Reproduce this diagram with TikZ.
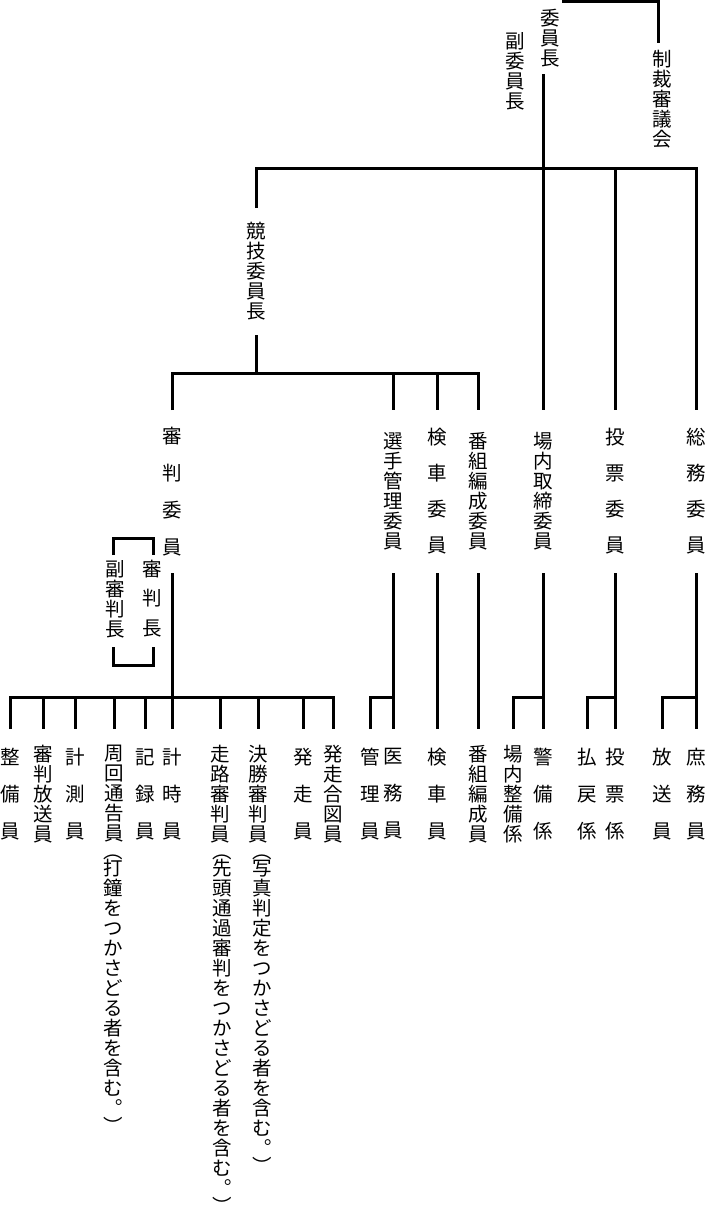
\documentclass[tikz,border=0pt]{standalone}
\usepackage{fontspec}
\setmainfont{Noto Sans CJK JP}
\begin{document}
\begin{tikzpicture}[x=1pt,y=-1pt,line width=3pt,
		lbl/.style={inner sep=0pt,outer sep=0pt,align=center,font=\fontsize{19.5}{20}\selectfont},
		wide/.style={lbl,font=\fontsize{19.5}{36}\selectfont},
		wider/.style={lbl,font=\fontsize{19.5}{37}\selectfont},
		upper/.style={minimum height=163pt},
		lower/.style={minimum height=130pt,anchor=north}]
		\useasboundingbox (0,0) rectangle (709,1218);
		\node[lbl,minimum height=71pt] (chair) at (550,38.5) {委\\員\\長};
		\node[lbl,anchor=north] (vice) at (515,32) {副\\委\\員\\長};
		\node[lbl,anchor=north,inner ysep=7pt] (council) at (662,43) {制\\裁\\審\\議\\会};
		\node[lbl,minimum height=127pt] (keigi) at (256,271.5) {競\\技\\委\\員\\長};
		\node[wider,upper] (shinpan) at (172,491.5) {審\\判\\委\\員};
		\node[lbl,upper] (senshu) at (393,491.5) {選\\手\\管\\理\\委\\員};
		\node[wide,upper] (kensha) at (437,491.5) {検\\車\\委\\員};
		\node[lbl,upper] (bangumi) at (478,491.5) {番\\組\\編\\成\\委\\員};
		\node[lbl,upper] (jonai) at (543,491.5) {場\\内\\取\\締\\委\\員};
		\node[wide,upper] (touhyo) at (615,491.5) {投\\票\\委\\員};
		\node[wide,upper] (soumu) at (696,491.5) {総\\務\\委\\員};
		\node[lbl,font=\fontsize{19.5}{29.5}\selectfont,anchor=north] (chief) at (152,560) {審\\判\\長};
		\node[lbl,anchor=north] (vchief) at (115,560) {副\\審\\判\\長};
		\node[wider,lower] (seibi) at (10,729) {整\\備\\員};
		\node[lbl,lower] (shbousou) at (43,729) {審\\判\\放\\送\\員};
		\node[wider,lower] (keisoku) at (75,729) {計\\測\\員};
		\node[lbl,lower] (shuukai) at (114,729) {周\\回\\通\\告\\員};
		\node[wider,lower] (kiroku) at (145,729) {記\\録\\員};
		\node[wider,lower] (keiji) at (172,729) {計\\時\\員};
		\node[lbl,lower] (sourou) at (220,729) {走\\路\\審\\判\\員};
		\node[lbl,lower] (kesshou) at (258,729) {決\\勝\\審\\判\\員};
		\node[wider,lower] (hassou) at (303,729) {発\\走\\員};
		\node[lbl,lower] (aizu) at (333,729) {発\\走\\合\\図\\員};
		\node[wider,lower] (kanri) at (370,729) {管\\理\\員};
		\node[wider,lower] (imu) at (393,729) {医\\務\\員};
		\node[wider,lower] (kenshain) at (437,729) {検\\車\\員};
		\node[lbl,lower] (bangumiin) at (478,729) {番\\組\\編\\成\\員};
		\node[lbl,lower] (jseibi) at (513,729) {場\\内\\整\\備\\係};
		\node[wider,lower] (keibi) at (543,729) {警\\備\\係};
		\node[wider,lower] (haraimodoshi) at (587,729) {払\\戻\\係};
		\node[wider,lower] (thkakari) at (615,729) {投\\票\\係};
		\node[wider,lower] (housouin) at (662,729) {放\\送\\員};
		\node[wider,lower] (shomu) at (696,729) {庶\\務\\員};
		\node[lbl,anchor=north] (shuukainote) at (113,855) {︵\\[-3pt]打\\鐘\\を\\つ\\か\\さ\\ど\\る\\者\\を\\含\\む\\︒\\[-2pt]︶};
		\node[lbl,anchor=north] (sourounote) at (222,855) {︵\\[-3pt]先\\頭\\通\\過\\審\\判\\を\\つ\\か\\さ\\ど\\る\\者\\を\\含\\む\\︒\\[-2pt]︶};
		\node[lbl,anchor=north] (kesshounote) at (262,855) {︵\\[-3pt]写\\真\\判\\定\\を\\つ\\か\\さ\\ど\\る\\者\\を\\含\\む\\︒\\[-2pt]︶};
		\coordinate (ctop) at (562,1.5);
		\coordinate (cbar) at (658,0);
		\coordinate (trunk) at (543,168);
		\coordinate (kbar) at (256,373);
		\coordinate (sbar) at (172,697);
		\draw (ctop) -| (council.north -| cbar);
		\draw (chair.south -| trunk) -- (trunk);
		\draw (keigi.north) |- (trunk) -| (soumu.north);
		\draw (trunk) -- (jonai.north);
		\draw (touhyo.north |- trunk) -- (touhyo.north);
		\draw (shinpan.north) |- (kbar) -| (bangumi.north);
		\draw (keigi.south) -- (kbar);
		\draw (senshu.north |- kbar) -- (senshu.north);
		\draw (kensha.north |- kbar) -- (kensha.north);
		\draw (113,555) |- (153,538) -- (153,555);
		\draw (113,647) |- (153,665) -- (153,647);
		\draw (shinpan.south) -- (sbar);
		\draw (seibi.north) |- (sbar) -| (aizu.north);
		\draw (shbousou.north |- sbar) -- (shbousou.north);
		\draw (keisoku.north |- sbar) -- (keisoku.north);
		\draw (shuukai.north |- sbar) -- (shuukai.north);
		\draw (kiroku.north |- sbar) -- (kiroku.north);
		\draw (keiji.north |- sbar) -- (keiji.north);
		\draw (sourou.north |- sbar) -- (sourou.north);
		\draw (kesshou.north |- sbar) -- (kesshou.north);
		\draw (hassou.north |- sbar) -- (hassou.north);
		\draw (senshu.south) -- (imu.north);
		\draw (kanri.north) |- (imu.north |- sbar);
		\draw (kensha.south) -- (kenshain.north);
		\draw (bangumi.south) -- (bangumiin.north);
		\draw (jonai.south) -- (keibi.north);
		\draw (jseibi.north) |- (keibi.north |- sbar);
		\draw (touhyo.south) -- (thkakari.north);
		\draw (haraimodoshi.north) |- (thkakari.north |- sbar);
		\draw (soumu.south) -- (shomu.north);
		\draw (housouin.north) |- (shomu.north |- sbar);
\end{tikzpicture}
\end{document}
